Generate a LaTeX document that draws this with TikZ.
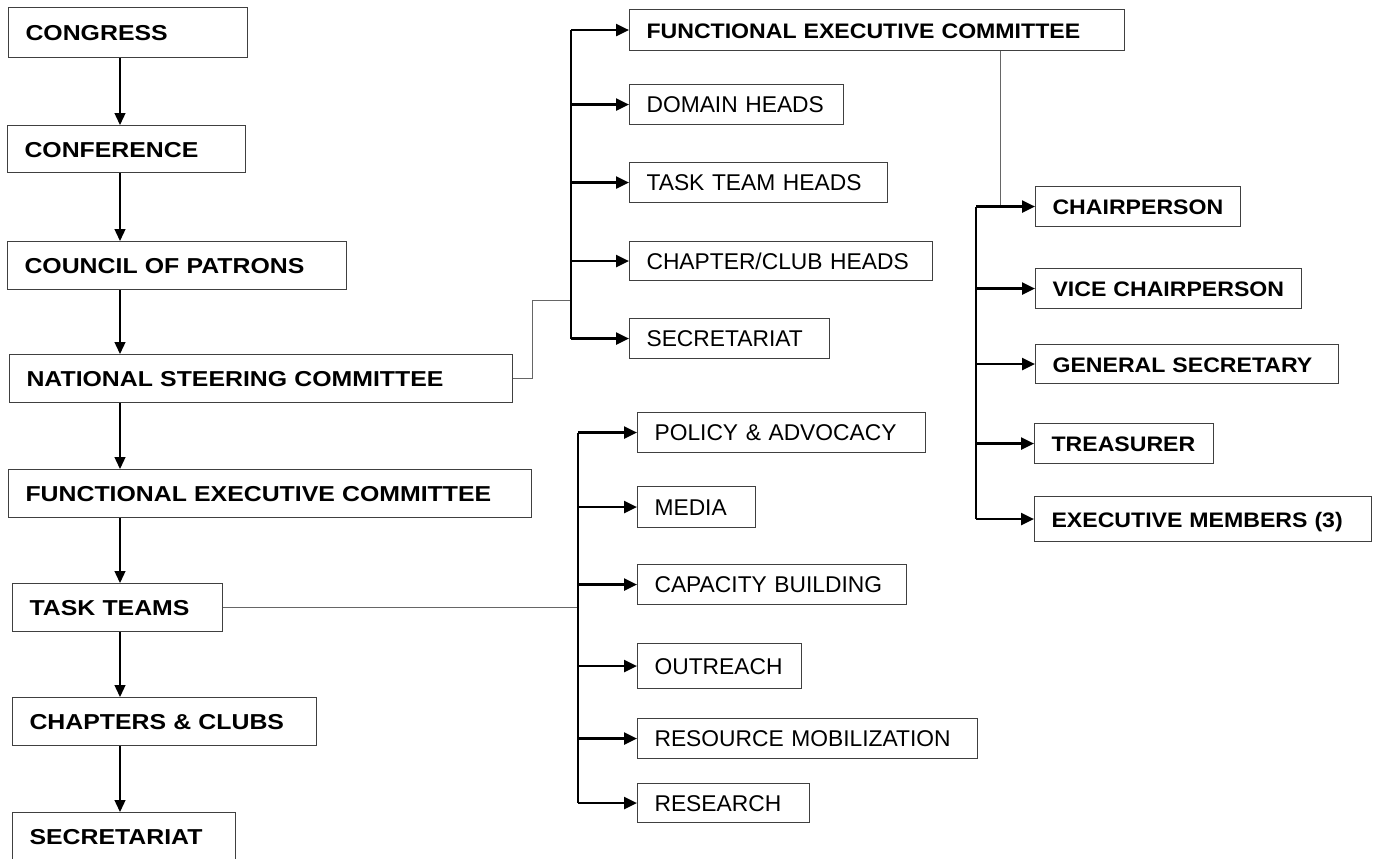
\documentclass[tikz,border=0pt]{standalone}
\usepackage{fontspec}
\setmainfont{Liberation Sans}
\newfontfamily\mainface[FakeStretch=1.15]{Liberation Sans}
\newfontfamily\sideface[FakeStretch=1.1]{Liberation Sans}
\usepackage{tikz}
\usetikzlibrary{arrows.meta,positioning}
\newcommand{\mainbold}{\mainface\fontsize{21.6}{26}\selectfont\bfseries}
\newcommand{\sidebold}{\sideface\fontsize{21}{25}\selectfont\bfseries}
\newcommand{\sideplain}{\fontsize{22.8}{26}\selectfont}
\tikzstyle{box} = [draw=black!75, line width=1.1pt, anchor=north west, inner xsep=17pt, inner ysep=0pt, text width=#1, align=left, text height=16pt, text depth=0pt]
\tikzstyle{arrow} = [line width=1.3pt,->,>={Triangle[length=12pt,width=11pt]}]
\tikzstyle{branch} = [line width=2.2pt,->,>={Triangle[length=13pt,width=12pt]}]
\tikzstyle{spine} = [line width=1.5pt, black]
\tikzstyle{link} = [line width=1pt, draw=black!60]

\begin{document}
\begin{tikzpicture}[x=1pt,y=-1pt]
\useasboundingbox (0,0) rectangle (1376,859);

% Main chain
\node[box=205pt, minimum height=50pt, font=\mainbold] (congress) at (8,7) {CONGRESS};
\node[box=204pt, minimum height=47pt, font=\mainbold] (conference) at (7,125) {CONFERENCE};
\node[box=305pt, minimum height=48pt, font=\mainbold] (patrons) at (7,241) {COUNCIL OF PATRONS};
\node[box=469pt, minimum height=48pt, font=\mainbold] (nsc) at (9,354) {NATIONAL STEERING COMMITTEE};
\node[box=489pt, minimum height=48pt, font=\mainbold] (fec) at (8,469) {FUNCTIONAL EXECUTIVE COMMITTEE};
\node[box=176pt, minimum height=48pt, font=\mainbold] (tasks) at (12,583) {TASK TEAMS};
\node[box=270pt, minimum height=48pt, font=\mainbold] (chapters) at (12,697) {CHAPTERS \& CLUBS};
\node[box=189pt, minimum height=60pt, text depth=12pt, font=\mainbold] (secretariat) at (12,812) {SECRETARIAT};

% Steering committee branch
\node[box=461pt, minimum height=41pt, font=\sidebold] (fecTop) at (629,9) {FUNCTIONAL EXECUTIVE COMMITTEE};
\node[box=180pt, minimum height=40pt, font=\sideplain] (domain) at (629,84) {DOMAIN HEADS};
\node[box=224pt, minimum height=40pt, font=\sideplain] (ttHeads) at (629,162) {TASK TEAM HEADS};
\node[box=269pt, minimum height=39pt, font=\sideplain] (ccHeads) at (629,241) {CHAPTER/CLUB HEADS};
\node[box=166pt, minimum height=40pt, font=\sideplain] (secTop) at (629,318) {SECRETARIAT};

% Executive committee members
\node[box=171pt, minimum height=40pt, font=\sidebold] (chair) at (1035,186) {CHAIRPERSON};
\node[box=232pt, minimum height=40pt, font=\sidebold] (vice) at (1035,268) {VICE CHAIRPERSON};
\node[box=269pt, minimum height=39pt, font=\sidebold] (genSec) at (1035,344) {GENERAL SECRETARY};
\node[box=145pt, minimum height=40pt, font=\sidebold] (treasurer) at (1034,423) {TREASURER};
\node[box=303pt, minimum height=45pt, font=\sidebold] (members) at (1034,496) {EXECUTIVE MEMBERS (3)};

% Task teams
\node[box=254pt, minimum height=40pt, font=\sideplain] (policy) at (637,412) {POLICY \& ADVOCACY};
\node[box=84pt, minimum height=41pt, font=\sideplain] (media) at (637,486) {MEDIA};
\node[box=235pt, minimum height=40pt, font=\sideplain] (capacity) at (637,564) {CAPACITY BUILDING};
\node[box=130pt, minimum height=45pt, font=\sideplain] (outreach) at (637,643) {OUTREACH};
\node[box=306pt, minimum height=40pt, font=\sideplain] (resource) at (637,718) {RESOURCE MOBILIZATION};
\node[box=138pt, minimum height=39pt, font=\sideplain] (research) at (637,783) {RESEARCH};

% Guide coordinates
\coordinate (axis) at (120,0);
\coordinate (spineA) at (571,0);
\coordinate (spineB) at (976,0);
\coordinate (spineC) at (578,0);
\coordinate (nscJoin) at (571,300);
\coordinate (chairJoin) at (1000,0);

% Main chain arrows
\draw[arrow] (congress.south -| axis) -- (conference.north -| axis);
\draw[arrow] (conference.south -| axis) -- (patrons.north -| axis);
\draw[arrow] (patrons.south -| axis) -- (nsc.north -| axis);
\draw[arrow] (nsc.south -| axis) -- (fec.north -| axis);
\draw[arrow] (fec.south -| axis) -- (tasks.north -| axis);
\draw[arrow] (tasks.south -| axis) -- (chapters.north -| axis);
\draw[arrow] (chapters.south -| axis) -- (secretariat.north -| axis);

% Steering committee branch
\draw[link] (nsc.east) -- ++(19,0) |- (nscJoin);
\draw[spine] (spineA |- fecTop.west) -- (spineA |- secTop.west);
\draw[branch] (spineA |- fecTop.west) -- (fecTop.west);
\draw[branch] (spineA |- domain.west) -- (domain.west);
\draw[branch] (spineA |- ttHeads.west) -- (ttHeads.west);
\draw[branch] (spineA |- ccHeads.west) -- (ccHeads.west);
\draw[branch] (spineA |- secTop.west) -- (secTop.west);

% Executive committee members
\draw[link] (chairJoin |- fecTop.south) -- (chairJoin |- chair.west);
\draw[spine] (spineB |- chair.west) -- (spineB |- members.west);
\draw[branch] (spineB |- chair.west) -- (chair.west);
\draw[branch] (spineB |- vice.west) -- (vice.west);
\draw[branch] (spineB |- genSec.west) -- (genSec.west);
\draw[branch] (spineB |- treasurer.west) -- (treasurer.west);
\draw[branch] (spineB |- members.west) -- (members.west);

% Task teams
\draw[link] (tasks.east) -- (spineC |- tasks.east);
\draw[spine] (spineC |- policy.west) -- (spineC |- research.west);
\draw[branch] (spineC |- policy.west) -- (policy.west);
\draw[branch] (spineC |- media.west) -- (media.west);
\draw[branch] (spineC |- capacity.west) -- (capacity.west);
\draw[branch] (spineC |- outreach.west) -- (outreach.west);
\draw[branch] (spineC |- resource.west) -- (resource.west);
\draw[branch] (spineC |- research.west) -- (research.west);
\end{tikzpicture}
\end{document}
